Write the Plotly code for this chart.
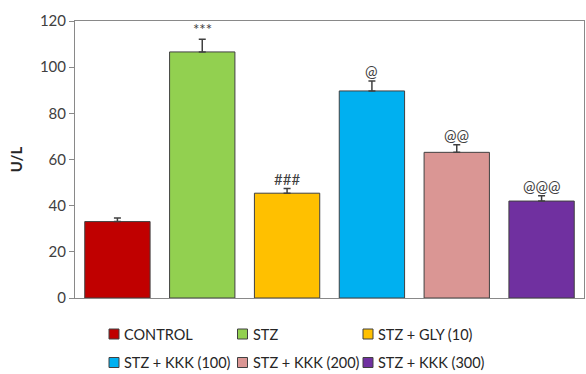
import plotly.graph_objects as go

categories = ["CONTROL", "STZ", "STZ + GLY (10)", "STZ + KKK (100)", "STZ + KKK (200)", "STZ + KKK (300)"]
values = [33.1, 106.6, 45.4, 89.7, 63.1, 42.0]
errors = [1.6, 5.5, 2.0, 4.3, 3.3, 2.3]
marks = ["", "***", "###", "@", "@@", "@@@"]
colors = ["#C00000", "#92D050", "#FFC000", "#00B0F0", "#DA9694", "#7030A0"]
y_ticks = [0, 20, 40, 60, 80, 100, 120]

FONT = "Lato"
W, H = 586, 374
ML, MR, MT, MB = 75, 2, 21, 76
PW, PH = W - ML - MR, H - MT - MB

def px_x(px):
    return (px - ML) / PW

def px_y(py):
    return (H - MB - py) / PH

fig = go.Figure()
for i, (c, v, e, col) in enumerate(zip(categories, values, errors, colors)):
    fig.add_trace(go.Bar(
        x=[c], y=[v], name=c, showlegend=False,
        marker=dict(color=col, line=dict(color="#404040", width=1)),
        error_y=dict(type="data", array=[e], arrayminus=[0], symmetric=False,
                     color="#404040", thickness=1.5, width=3.5),
        width=0.77,
    ))
    if marks[i]:
        fig.add_annotation(x=c, y=v + e, text=marks[i], showarrow=False,
                           yanchor="bottom", yshift=-1,
                           font=dict(family=FONT, size=15, color="#404040"))

# legend (two rows of three), drawn as swatches + labels below the plot
col_left = [109, 237.5, 363]
row_mid = [334, 362.5]
for i, (c, col) in enumerate(zip(categories, colors)):
    r, k = divmod(i, 3)
    x0 = col_left[k]
    yc = row_mid[r]
    fig.add_shape(type="rect", xref="paper", yref="paper",
                  x0=px_x(x0), x1=px_x(x0 + 10), y0=px_y(yc + 5), y1=px_y(yc - 5),
                  fillcolor=col, line=dict(color="#404040", width=1))
    fig.add_annotation(xref="paper", yref="paper", x=px_x(x0 + 13), y=px_y(yc),
                       xanchor="left", yanchor="middle", showarrow=False, text=c,
                       font=dict(family=FONT, size=14.5, color="#262626"))

fig.update_layout(
    width=W, height=H,
    margin=dict(l=ML, r=MR, t=MT, b=MB, autoexpand=False),
    plot_bgcolor="white", paper_bgcolor="white",
    barmode="overlay",
    showlegend=False,
    font=dict(family=FONT, size=14, color="#404040"),
)
fig.update_yaxes(range=[0, 120], tickvals=y_ticks, ticks="outside", ticklen=5,
                 tickcolor="#898989", showline=True, linecolor="#898989", linewidth=1,
                 mirror=True, showgrid=False, zeroline=False, automargin=False,
                 tickfont=dict(family=FONT, size=15, color="#404040"),
                 title=dict(text="<b>U/L</b>", font=dict(family=FONT, size=15, color="#262626"), standoff=13))
fig.update_xaxes(showticklabels=False, ticks="", showline=True, linecolor="#898989",
                 linewidth=1, mirror=True, showgrid=False, range=[-0.5, 5.5], automargin=False)
fig.write_html("out.html", config={"displayModeBar": False},
               post_script="document.body.style.margin='0';")
